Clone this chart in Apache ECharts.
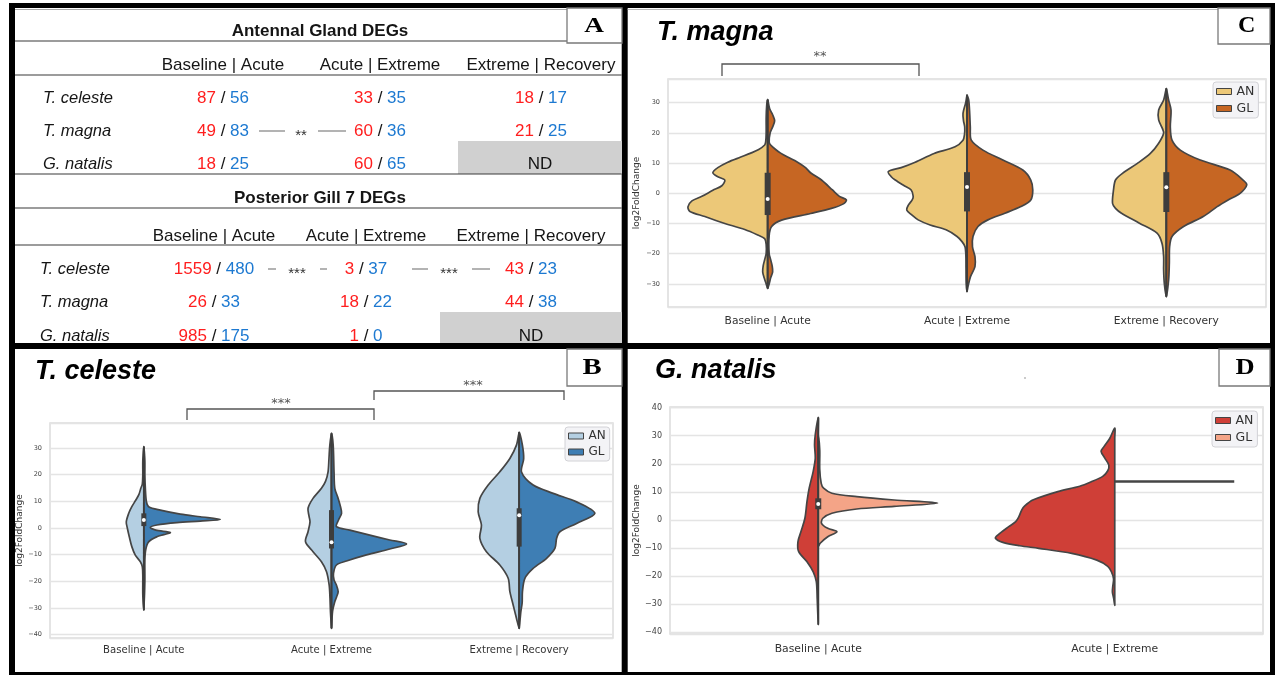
<!DOCTYPE html>
<html>
<head>
<meta charset="utf-8">
<script src="https://cdn.jsdelivr.net/npm/echarts@6/dist/echarts.min.js"></script>
<style>
  html, body { margin: 0; padding: 0; background: #fff; }
  #main { width: 1275px; height: 675px; }
</style>
</head>
<body>
<div id="main"></div>
<script>
// ---------- data ----------
var comparisons = ['Baseline | Acute', 'Acute | Extreme', 'Extreme | Recovery'];
var speciesNames = ['T. celeste', 'T. magna', 'G. natalis'];

// DEG counts, up (red) / down (blue); null = ND
var antennalUp = [[87, 33, 18], [49, 60, 21], [18, 60, null]];
var antennalDown = [[56, 35, 17], [83, 36, 25], [25, 65, null]];
var gillUp = [[1559, 3, 43], [26, 18, 44], [985, 1, null]];
var gillDown = [[480, 37, 23], [33, 22, 38], [175, 0, null]];

// violin half profiles: [log2FoldChange, density as % of half a category band]
// T. magna (panel C)
var magnaBA_AN = [[31,0],[29,1],[25,1.5],[20,1.5],[17,2],[16,3],[14.5,9],[13.3,17],[12,27],[10.3,40],[8.5,50],[6.8,55],[5.5,50],[4.4,43],[2.5,46],[1,55],[-1,66],[-2.5,76],[-4.5,80],[-6,78],[-7.7,63],[-9,52],[-10,43],[-12,23],[-13.8,10],[-15,3],[-17,1.5],[-20,1.5],[-22,3],[-24,4.5],[-26,5],[-28,3.5],[-30,1.5],[-31.5,0]];
var magnaBA_GL = [[31,0],[28,2],[26,5],[24,7],[22,5],[20,2.5],[17,1.5],[16,3],[14.5,8],[13.3,13],[12,20],[10.3,30],[8.5,38],[6.8,43],[4.4,54],[1.1,65],[-1,72],[-2.2,79],[-3.5,76],[-5,64],[-6.7,43],[-8.9,14],[-11,4],[-14,1.5],[-20,1.5],[-22,3],[-24,4.5],[-26,5],[-28,3],[-30,1.5],[-31.5,0]];
var magnaAE_AN = [[32.5,0],[30,1.3],[26.5,4],[24,3.5],[22,2.3],[19.5,2.5],[17.6,4],[15.4,12],[13.2,33],[10.3,52],[8.5,66],[7.2,79],[5.5,76],[4.4,72],[2.5,63],[1.1,56],[-1,54],[-2.2,55],[-4,59],[-5.5,60.5],[-7,56],[-8.8,49],[-10.5,37],[-12.1,21],[-14.3,10],[-16,5],[-17.7,2],[-20,1.2],[-25,1],[-30,0.8],[-32.5,0]];
var magnaAE_GL = [[32.5,0],[30.9,1.7],[26.5,2.7],[22,3.3],[17.6,4.3],[14.3,16],[11,36],[7.7,56],[4.4,64],[1.1,66],[-2.2,64],[-4.4,54],[-6.6,38],[-8.8,21],[-11,11],[-14.3,6],[-17.7,5.5],[-21,8],[-24.3,8],[-27.6,3.5],[-30.9,1],[-32.6,0]];
var magnaER_AN = [[34.7,0],[30.9,2.7],[27.6,7.7],[24.3,7.7],[21.5,4],[19.9,2.7],[16.6,7.7],[13.2,16],[9.9,29],[6.6,44],[4.4,51],[1.1,53],[-3.3,54],[-5,51],[-6.6,45],[-9.9,27],[-13.2,9.3],[-16.6,4.3],[-21,2.7],[-25.4,2.7],[-29.9,2],[-34.2,0]];
var magnaER_GL = [[34.7,0],[30.9,2.3],[27.6,4.7],[22,4],[17.6,5.7],[14.3,14],[11,34],[7.7,64],[4.4,77],[2.8,80.7],[0,74],[-2.2,62],[-4.4,51],[-7.7,37],[-11,17.3],[-14.3,5.7],[-17.7,3.3],[-23.2,3],[-28.7,2.3],[-34.2,0]];
// [low, q1, median, q3, high]
var magnaBoxes = [[-31.5, -7.2, -1.9, 6.8, 31], [-32.5, -6, 2.1, 7, 32.5], [-34.2, -6.2, 2, 7, 34.7]];

// T. celeste (panel B)
var celesteBA_AN = [[30.5,0],[25,1.1],[20,1.1],[16.5,1.6],[14.9,3.2],[12.5,5.3],[10.5,8.5],[8,12.8],[5.6,16],[2.3,18.7],[0,17.6],[-3.3,15.5],[-7,12.8],[-10.2,9.1],[-12.7,3.7],[-14.6,1.6],[-18,1.1],[-25,1.1],[-30.8,0]];
var celesteBA_GL = [[30.5,0],[25,1.1],[20,1.1],[15,1.6],[10,2.7],[8,5.1],[6.7,17.6],[5.2,38.9],[4.2,60.2],[3.2,81.5],[2.6,60.2],[2,35.2],[1.1,13.9],[0.2,6.9],[-0.8,12.8],[-1.7,28.2],[-2.5,21.3],[-3.3,13.9],[-5.2,5.1],[-8,2.1],[-12,1.1],[-20,1.1],[-30.8,0]];
var celesteAE_AN = [[35.5,0],[31,1.8],[26,2.7],[21,3.7],[17.5,6.4],[14.9,10.7],[11.1,19.7],[7.4,25],[4.5,24],[2.3,22.9],[-1.4,25],[-5.2,27.7],[-8.9,19.7],[-12.7,10.7],[-16.4,5.3],[-21.4,2.5],[-26.4,1.6],[-31.4,1.1],[-37.7,0]];
var celesteAE_GL = [[35.5,0],[31,1.8],[21,2.7],[14.9,3.5],[11.1,7.1],[8,9.6],[5.5,10.7],[3,7.5],[0.5,5.3],[-0.8,19.5],[-2.7,40.8],[-4.5,62.1],[-6,80],[-7.9,62.1],[-10.1,37.3],[-12.4,16],[-13.9,5.3],[-17,2.1],[-19.5,2.7],[-21.5,5.3],[-23.9,7.1],[-26,5.3],[-27.7,3.5],[-31.4,1.1],[-37.7,0]];
var celesteER_AN = [[35.9,0],[31.1,2.9],[26.1,9.9],[21.1,20.6],[16.1,33],[11.1,41.9],[6.1,43.7],[1.1,40.2],[-3.9,41.9],[-8.9,34.9],[-13.9,20.6],[-18.9,11.7],[-23.9,9.9],[-28.9,6.4],[-33.9,2.9],[-37.7,0]];
var celesteER_GL = [[35.9,0],[31,3.5],[26,4.8],[21,2.5],[16.1,14.9],[13,36.2],[9.8,61.2],[5.5,80.7],[1.7,61.2],[-1.4,43.4],[-3.9,39.9],[-7.7,38.1],[-11.4,29.2],[-15.2,14.9],[-18.9,6.1],[-23.9,3.5],[-28,3.2],[-31.4,1.8],[-37.7,0]];
var celesteBoxes = [[-30.8, 0.7, 3, 5.5, 30.5], [-37.7, -7.7, -5.4, 6.7, 35.5], [-37.7, -7, 4.8, 7.4, 35.9]];

// G. natalis (panel D)
var natalisBA_AN = [[36.5,0],[30.4,2],[26.8,2.5],[22,2],[17.3,3.4],[11.3,6.1],[6.5,7.6],[0.6,9],[-4.2,11.7],[-7.8,13.7],[-11.3,13.2],[-14.9,7.6],[-18.5,3.4],[-22,1.3],[-28,0.7],[-37.3,0]];
var natalisBA_GL = [[30,0],[25,1],[18,1],[13,2],[11.3,3.6],[9.5,9.2],[8.3,26],[7.1,51.2],[6,80.5],[4.8,51.2],[3.9,26],[2.4,9.2],[0.6,3.1],[-1.2,2.2],[-3,6.4],[-4.2,12.6],[-6,6.4],[-8.3,1.3],[-9.5,0]];
var natalisAE_AN = [[32.7,0],[29,3.4],[26,7.4],[24.4,9.2],[22,6.7],[19.5,4],[17.5,4.7],[15.5,8.1],[13.5,16.2],[12,23.6],[10.1,38.4],[7.1,55.3],[5,60.7],[3.6,62.7],[1,64.8],[-0.6,66.8],[-2.4,71.5],[-5.4,78.9],[-6.5,80.5],[-8,75.5],[-9.2,64.1],[-10.1,51.3],[-11.9,29],[-14.3,12.1],[-16.5,4.7],[-18.5,2.2],[-21,0.8],[-23.5,1.3],[-25.6,1.6],[-28,0.7],[-30.4,0]];
var natalisAE_GL = [[13.7, 80.6]];   // single value -> flat line
var natalisBoxes = [[-37.3, 3.8, 5.7, 7.7, 36.5]];

// ---------- styles ----------
var RED = '#ff1e1e', BLUE = '#1d79d1';
var EDGE = '#454545', BOXC = '#3d3d3d';
var GRIDLINE = '#e4e4e4', GRIDB = '#dcdcdc';
var SANS = '"Liberation Sans", Arial, sans-serif';
var F17 = '17px ' + SANS;

// ---------- graphic (frame, table A, titles, labels) ----------
var els = [];
function rect(x, y, w, h, style, z) { els.push({ type: 'rect', z: z || 0, shape: { x: x, y: y, width: w, height: h }, style: style }); }
function line(x1, y1, x2, y2, stroke, lw) { els.push({ type: 'line', shape: { x1: x1, y1: y1, x2: x2, y2: y2 }, style: { stroke: stroke, lineWidth: lw } }); }
function text(x, y, str, font, extra) {
  var st = { text: str, font: font, fill: '#151515', align: 'center', verticalAlign: 'middle' };
  for (var k in extra) st[k] = extra[k];
  els.push({ type: 'text', x: x, y: y, style: st });
}

// black frame + white panels
rect(9, 3, 1266, 672, { fill: '#000' }, -6);
rect(15, 8, 606.7, 335, { fill: '#fff' }, -5);
rect(627.7, 8, 642.3, 335, { fill: '#fff' }, -5);
rect(15, 349, 606.7, 323, { fill: '#fff' }, -5);
rect(627.7, 349, 642.3, 323, { fill: '#fff' }, -5);
line(15, 9.5, 567, 9.5, '#aaa', 1);
line(627.7, 9.5, 1218, 9.5, '#bbb', 1);

// panel A table
function tableBlock(title, titleY, headY, cols, rows, labelX, up, down, nd, marks) {
  rect(nd[0], nd[1], nd[2], nd[3], { fill: '#d0d0d0' });
  text(320, titleY, title, 'bold 17px ' + SANS);
  for (var c = 0; c < comparisons.length; c++) text(cols[c], headY, comparisons[c], F17);
  for (var r = 0; r < speciesNames.length; r++) {
    text(labelX, rows[r], speciesNames[r], 'italic 16.5px ' + SANS, { align: 'left' });
    for (c = 0; c < comparisons.length; c++) {
      if (up[r][c] === null) {
        text(nd[0] + nd[2] / 2, rows[r], 'ND', F17);
        continue;
      }
      text(cols[c], rows[r], '{u|' + up[r][c] + '} / {d|' + down[r][c] + '}', F17, {
        rich: { u: { fill: RED, font: F17 }, d: { fill: BLUE, font: F17 } }
      });
    }
  }
  marks.forEach(function (m) {
    m.dashes.forEach(function (d) { line(d[0], rows[m.row], d[1], rows[m.row], '#9a9a9a', 1.5); });
    text(m.x, rows[m.row] + 5, m.stars, '15px ' + SANS, { fill: '#333' });
  });
}
tableBlock('Antennal Gland DEGs', 31, 65, [223, 380, 541], [98, 131, 164], 43,
  antennalUp, antennalDown, [458, 141, 164, 33],
  [{ row: 1, x: 301, stars: '**', dashes: [[259, 285], [318, 346]] }]);
tableBlock('Posterior Gill 7 DEGs', 198, 236, [214, 366, 531], [269, 302, 336], 40,
  gillUp, gillDown, [440, 312, 182, 31],
  [{ row: 0, x: 297, stars: '***', dashes: [[268, 276], [320, 327]] },
   { row: 0, x: 449, stars: '***', dashes: [[412, 428], [472, 490]] }]);
[41, 75, 174, 208, 245].forEach(function (y) { line(15, y, y === 41 ? 567 : 621.7, y, '#3a3a3a', 1.2); });

// panel titles
var TITLE = 'italic bold 27px ' + SANS;
text(657, 33, 'T. magna', TITLE, { align: 'left', fill: '#000' });
text(35, 372, 'T. celeste', TITLE, { align: 'left', fill: '#000' });
text(655, 371, 'G. natalis', TITLE, { align: 'left', fill: '#000' });

// panel letters
function letter(bx, by, bw, bh, ch, cx, cy, size, sx) {
  rect(bx, by, bw, bh, { fill: '#fff', stroke: '#7a7a7a', lineWidth: 1.3 });
  els.push({ type: 'text', x: cx, y: cy, scaleX: sx, style: { text: ch, font: 'bold ' + size + 'px "Liberation Serif", "DejaVu Serif", serif', fill: '#000', align: 'center', verticalAlign: 'middle' } });
}
letter(567, 8, 55, 35, 'A', 594, 27, 21, 1.3);
letter(1218, 8, 52, 36, 'C', 1246.7, 25.5, 24, 1);
letter(567, 349, 55, 37, 'B', 592, 368, 23, 1.25);
letter(1219, 349, 51, 37, 'D', 1245, 368, 23, 1.15);

// significance brackets
function bracket(x1, x2, yTop, yBot, stars, sx, sy) {
  els.push({ type: 'polyline', shape: { points: [[x1, yBot], [x1, yTop], [x2, yTop], [x2, yBot]] }, style: { stroke: '#555', lineWidth: 1.3, fill: null } });
  text(sx, sy + 4, stars, '13px "DejaVu Sans", sans-serif', { fill: '#555' });
}
bracket(722, 919, 64, 76, '**', 820, 53);
bracket(187, 374, 409, 420, '***', 281, 400);
bracket(374, 564, 391, 400, '***', 473, 382);
els.push({ type: 'circle', shape: { cx: 1025, cy: 378, r: 0.8 }, style: { fill: '#888' } });

// ---------- violins ----------
function violinHalf(name, panel, color, profiles, side) {
  return {
    type: 'custom', name: name, xAxisIndex: panel, yAxisIndex: panel,
    itemStyle: { color: color },
    data: profiles.map(function (p, i) { return [i, 0]; }),
    renderItem: function (params, api) {
      var prof = profiles[params.dataIndex];
      var cat = api.value(0);
      var cx = api.coord([cat, 0])[0];
      var half = api.size([1, 0])[0] / 2;
      var dir = side === 'left' ? -1 : 1;
      var outer = prof.map(function (d) { return [cx + dir * d[1] / 100 * half, api.coord([cat, d[0]])[1]]; });
      if (prof.length === 1) {
        return { type: 'line', shape: { x1: cx, y1: outer[0][1], x2: outer[0][0], y2: outer[0][1] }, style: { stroke: EDGE, lineWidth: 2.4 } };
      }
      var inner = prof.slice(1, -1).reverse().map(function (d) { return [cx, api.coord([cat, d[0]])[1]]; });
      return {
        type: 'polygon',
        shape: { points: outer.concat(inner), smooth: 0.3 },
        style: { fill: api.visual('color'), stroke: EDGE, lineWidth: 1.7 }
      };
    }
  };
}
function innerBoxes(panel, boxes, w) {
  return {
    type: 'custom', xAxisIndex: panel, yAxisIndex: panel, z: 5,
    data: boxes.map(function (b, i) { return [i].concat(b); }),
    renderItem: function (params, api) {
      var cat = api.value(0);
      var x = api.coord([cat, 0])[0];
      function y(v) { return api.coord([cat, v])[1]; }
      return { type: 'group', children: [
        { type: 'line', shape: { x1: x, y1: y(api.value(1)), x2: x, y2: y(api.value(5)) }, style: { stroke: BOXC, lineWidth: 1.8 } },
        { type: 'line', shape: { x1: x, y1: y(api.value(2)), x2: x, y2: y(api.value(4)) }, style: { stroke: BOXC, lineWidth: w } },
        { type: 'circle', shape: { cx: x, cy: y(api.value(3)), r: 2 }, style: { fill: '#fff' } }
      ] };
    }
  };
}

// ---------- axes ----------
function xAx(i, cats, size, margin) {
  return { gridIndex: i, type: 'category', data: cats,
    axisLine: { show: false }, axisTick: { show: false }, splitLine: { show: false },
    axisLabel: { fontSize: size, color: '#333', margin: margin, fontFamily: 'DejaVu Sans' } };
}
function yAx(i, min, max, size, gap) {
  return { gridIndex: i, type: 'value', min: min, max: max, minInterval: 10, maxInterval: 10,
    axisLine: { show: false }, axisTick: { show: false },
    splitLine: { lineStyle: { color: GRIDLINE, width: 1.4 } },
    axisLabel: { fontSize: size, color: '#444', margin: 8, fontFamily: 'DejaVu Sans',
      formatter: function (v) { return Math.abs(v % 10) < 1e-9 ? String(v).replace('-', '\u2212') : ''; } },
    name: 'log2FoldChange', nameLocation: 'middle', nameGap: gap,
    nameTextStyle: { fontSize: 9, color: '#333', fontFamily: 'DejaVu Sans' } };
}
function legendAt(names, left, top, size) {
  return { data: names, left: left, top: top, orient: 'vertical', icon: 'rect',
    itemWidth: 15, itemHeight: 6, itemGap: 4, selectedMode: false,
    padding: [3, 4, 3, 3], backgroundColor: '#f3f3f6', borderColor: '#d2d2d6', borderWidth: 1, borderRadius: 3,
    itemStyle: { borderColor: '#444', borderWidth: 1 },
    textStyle: { fontSize: size, color: '#333', fontFamily: 'DejaVu Sans' },
    formatter: function (n) { return n.slice(2); } };
}
function gridAt(l, t, w, h) {
  return { left: l, top: t, width: w, height: h, show: true, borderColor: GRIDB, borderWidth: 1.5 };
}

var myChart = echarts.init(document.getElementById('main'));
var option = {
  animation: false,
  backgroundColor: '#fff',
  graphic: { elements: els },
  grid: [gridAt(668, 79, 598, 228), gridAt(50, 423, 563, 215), gridAt(670, 407, 593, 227)],
  xAxis: [xAx(0, comparisons, 10.7, 9), xAx(1, comparisons, 10.1, 7), xAx(2, comparisons.slice(0, 2), 10.8, 10)],
  yAxis: [yAx(0, -37.65, 37.85, 6.5, 27), yAx(1, -41.3, 39.4, 6.5, 25.5), yAx(2, -40.6, 40.2, 8, 25.5)],
  legend: [
    legendAt(['C AN', 'C GL'], 1213, 82, 12.5),
    legendAt(['B AN', 'B GL'], 565, 427, 12),
    legendAt(['D AN', 'D GL'], 1212, 411, 12.5)
  ],
  series: [
    violinHalf('C AN', 0, '#ecc878', [magnaBA_AN, magnaAE_AN, magnaER_AN], 'left'),
    violinHalf('C GL', 0, '#c66623', [magnaBA_GL, magnaAE_GL, magnaER_GL], 'right'),
    innerBoxes(0, magnaBoxes, 6),
    violinHalf('B AN', 1, '#b4cfe2', [celesteBA_AN, celesteAE_AN, celesteER_AN], 'left'),
    violinHalf('B GL', 1, '#3e7eb4', [celesteBA_GL, celesteAE_GL, celesteER_GL], 'right'),
    innerBoxes(1, celesteBoxes, 5),
    violinHalf('D AN', 2, '#cf3f37', [natalisBA_AN, natalisAE_AN], 'left'),
    violinHalf('D GL', 2, '#f4a487', [natalisBA_GL, natalisAE_GL], 'right'),
    innerBoxes(2, natalisBoxes, 6)
  ]
};
myChart.setOption(option);
window.addEventListener('resize', function () { myChart.resize(); });
</script>
</body>
</html>
